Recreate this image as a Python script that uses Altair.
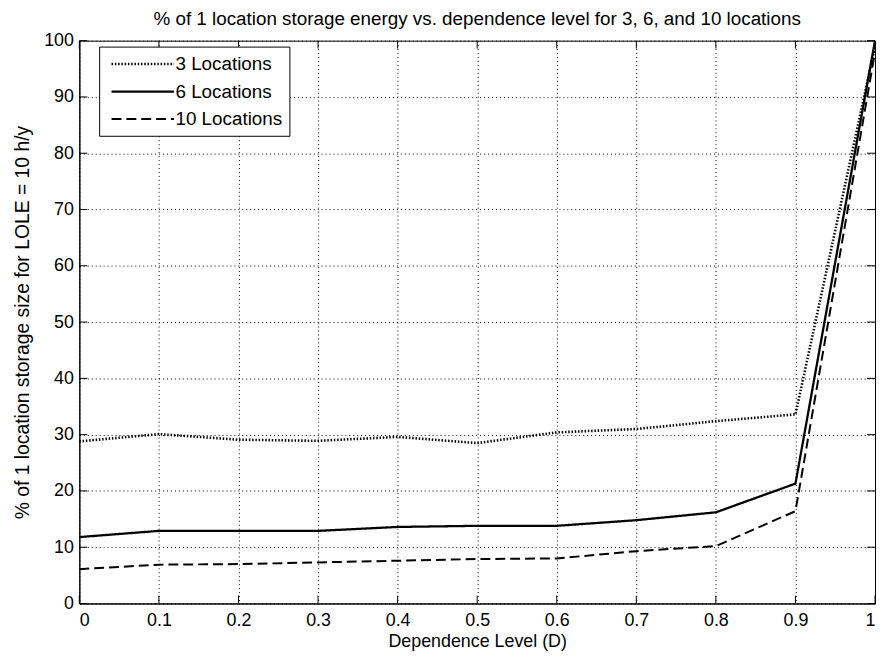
import altair as alt
import pandas as pd

# ---- data ----
dependence = [0.0, 0.1, 0.2, 0.3, 0.4, 0.5, 0.6, 0.7, 0.8, 0.9, 1.0]
loc3 = [28.8, 30.1, 29.1, 28.9, 29.6, 28.5, 30.4, 31.0, 32.4, 33.6, 99.0]
loc6 = [11.8, 12.9, 12.9, 12.9, 13.6, 13.8, 13.8, 14.8, 16.2, 21.3, 100.0]
loc10 = [6.1, 6.9, 7.0, 7.3, 7.6, 7.9, 8.0, 9.3, 10.2, 16.4, 98.0]
series_names = ["3 Locations", "6 Locations", "10 Locations"]
x_ticks = [0.0, 0.1, 0.2, 0.3, 0.4, 0.5, 0.6, 0.7, 0.8, 0.9, 1.0]
y_ticks = [0, 10, 20, 30, 40, 50, 60, 70, 80, 90, 100]

TICK_Y = 1.4   # inner tick length, y data units
TICK_X = 0.01  # inner tick length, x data units
FONT = "Liberation Sans"

rows = []
for name, vals in zip(series_names, [loc3, loc6, loc10]):
    for d, v in zip(dependence, vals):
        rows.append({"D": d, "pct": v, "series": name})
df = pd.DataFrame(rows)

xs = alt.Scale(domain=[0, 1], nice=False, zero=False)
ys = alt.Scale(domain=[0, 100], nice=False)

lines = alt.Chart(df).mark_line(color="black", clip=True).encode(
    x=alt.X("D:Q", scale=xs,
            axis=alt.Axis(values=x_ticks, format="~g", title="Dependence Level (D)",
                          grid=True, ticks=False, labelPadding=8,
                          titleY=43, titleBaseline="alphabetic", titleFontSize=18)),
    y=alt.Y("pct:Q", scale=ys,
            axis=alt.Axis(values=y_ticks, title="% of 1 location storage size for LOLE = 10 h/y",
                          grid=True, ticks=False, labelPadding=6,
                          titleX=-57, titleY=284, titleAngle=270, titleFontSize=19.5,
                          titleBaseline="middle", titleAlign="center")),
    strokeDash=alt.StrokeDash(
        "series:N",
        scale=alt.Scale(domain=series_names, range=[[1.5, 1.8], [1, 0], [10, 5]]),
        sort=series_names,
        legend=alt.Legend(title=None, orient="none", legendX=20, legendY=6),
    ),
    strokeWidth=alt.StrokeWidth(
        "series:N",
        scale=alt.Scale(domain=series_names, range=[2.6, 2, 2.2]),
        legend=None,
    ),
)

n = len(x_ticks)
m = len(y_ticks)
bottom_ticks = pd.DataFrame({"D": x_ticks, "pct": [0] * n, "pct2": [TICK_Y] * n})
top_ticks = pd.DataFrame({"D": x_ticks, "pct": [100] * n, "pct2": [100 - TICK_Y] * n})
left_ticks = pd.DataFrame({"pct": y_ticks, "D": [0] * m, "D2": [TICK_X] * m})
right_ticks = pd.DataFrame({"pct": y_ticks, "D": [1] * m, "D2": [1 - TICK_X] * m})

def vticks(data):
    return alt.Chart(data).mark_rule(color="black", strokeWidth=1).encode(
        x=alt.X("D:Q", scale=xs), y=alt.Y("pct:Q", scale=ys), y2="pct2:Q")

def hticks(data):
    return alt.Chart(data).mark_rule(color="black", strokeWidth=1).encode(
        y=alt.Y("pct:Q", scale=ys), x=alt.X("D:Q", scale=xs), x2="D2:Q")

chart = alt.layer(
    lines, vticks(bottom_ticks), vticks(top_ticks), hticks(left_ticks), hticks(right_ticks)
).properties(
    width=803, height=568,
    autosize=alt.AutoSizeParams(type="none"),
    padding={"left": 72, "top": 30, "right": 2, "bottom": 47},
    title=alt.TitleParams(
        "% of 1 location storage energy vs. dependence level for 3, 6, and 10 locations",
        font=FONT, fontSize=19, fontWeight="normal", color="black",
        offset=3, anchor="middle", frame="group"),
    background="white",
).configure_view(
    stroke="black", strokeWidth=1
).configure_axis(
    domainColor="black", domainWidth=1,
    labelFont=FONT, labelFontSize=18, labelColor="black",
    titleFont=FONT, titleFontWeight="normal", titleColor="black",
    gridColor="black", gridDash=[1, 3], gridOpacity=1, gridWidth=1,
).configure_legend(
    labelFont=FONT, labelFontSize=19, labelColor="black", labelLimit=0,
    symbolType="M-0.526,0L6.105,0", symbolSize=361, symbolStrokeWidth=2,
    symbolStrokeColor="black", symbolFillColor="transparent",
    strokeColor="black", fillColor="white", padding=6.5, rowPadding=7,
    labelOffset=48.5, symbolOffset=0, cornerRadius=0,
)

chart.save("out.html", embed_options={"renderer": "svg", "actions": False})
